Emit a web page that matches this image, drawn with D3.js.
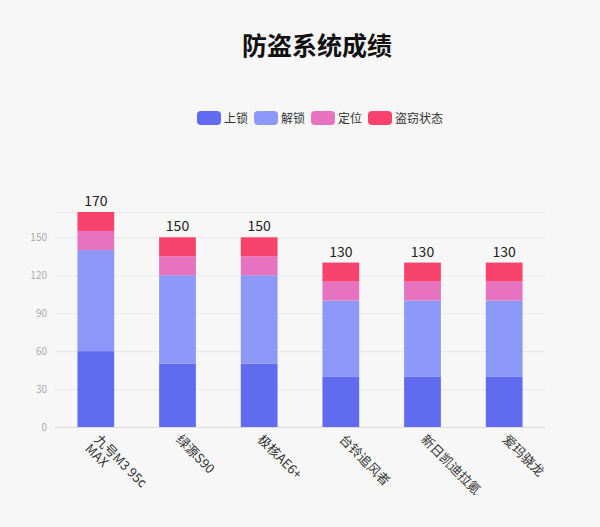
<!DOCTYPE html>
<html>
<head>
<meta charset="utf-8">
<script src="https://cdn.jsdelivr.net/npm/d3@7"></script>
<style>
  body { margin: 0; background: #f7f7f7; }
  svg { display: block; font-family: "Noto Sans CJK SC", "Noto Sans", sans-serif; }
</style>
</head>
<body>
<svg width="600" height="527"></svg>
<script>
  const categories = ["九号M3 95c MAX", "绿源S90", "极核AE6+", "台铃追风者", "新日凯迪拉氪", "爱玛骁龙"];
  const seriesNames = ["上锁", "解锁", "定位", "盗窃状态"];
  const lockVals = [60, 50, 50, 40, 40, 40];
  const unlockVals = [80, 70, 70, 60, 60, 60];
  const locateVals = [15, 15, 15, 15, 15, 15];
  const theftVals = [15, 15, 15, 15, 15, 15];
  const yTicks = [0, 30, 60, 90, 120, 150];
  const colors = ["#616bf0", "#8c99f8", "#e772bf", "#f7426b"];

  const svg = d3.select("svg"),
        width = +svg.attr("width"),
        height = +svg.attr("height"),
        margin = {top: 212, right: 55, bottom: 100, left: 55};

  const rows = categories.map((c, i) => ({
    cat: c,
    "上锁": lockVals[i],
    "解锁": unlockVals[i],
    "定位": locateVals[i],
    "盗窃状态": theftVals[i]
  }));
  const stacked = d3.stack().keys(seriesNames)(rows);
  const totals = rows.map(r => d3.sum(seriesNames, k => r[k]));

  const x = d3.scaleBand()
    .domain(categories)
    .range([margin.left, width - margin.right])
    .paddingInner(0.55)
    .paddingOuter(0.275);

  const y = d3.scaleLinear()
    .domain([0, d3.max(totals)])
    .range([height - margin.bottom, margin.top]);

  const color = d3.scaleOrdinal().domain(seriesNames).range(colors);

  // title (sits a bit right of centre, like the original)
  svg.append("text")
    .attr("x", 317)
    .attr("y", 55)
    .attr("text-anchor", "middle")
    .style("font-size", "25px")
    .style("font-weight", "bold")
    .attr("fill", "#111")
    .text("防盗系统成绩");

  // legend
  const legendX = [197, 254, 311, 368];
  const legend = svg.append("g").selectAll("g")
    .data(seriesNames)
    .enter().append("g")
    .attr("transform", (d, i) => `translate(${legendX[i]},111)`);
  legend.append("rect")
    .attr("width", 24).attr("height", 14).attr("rx", 4)
    .attr("fill", d => color(d));
  legend.append("text")
    .attr("x", 27).attr("y", 11.5)
    .style("font-size", "12px")
    .attr("fill", "#333")
    .text(d => d);

  // grid + y labels
  const gridVals = yTicks.concat([d3.max(totals)]);
  svg.append("g").selectAll("line")
    .data(gridVals)
    .enter().append("line")
    .attr("x1", margin.left).attr("x2", width - margin.right)
    .attr("y1", d => y(d) + 0.5).attr("y2", d => y(d) + 0.5)
    .attr("stroke", d => d === 0 ? "#dcdcdc" : "#e9e9e9");

  svg.append("g").selectAll("text")
    .data(yTicks)
    .enter().append("text")
    .attr("x", margin.left - 8)
    .attr("y", d => y(d) + 3.5)
    .attr("text-anchor", "end")
    .style("font-size", "10px")
    .attr("fill", "#aaa")
    .text(d => d);

  // bars
  svg.append("g").selectAll("g")
    .data(stacked)
    .enter().append("g")
    .attr("fill", d => color(d.key))
    .selectAll("rect")
    .data(d => d)
    .enter().append("rect")
    .attr("x", d => x(d.data.cat))
    .attr("y", d => y(d[1]))
    .attr("width", x.bandwidth())
    .attr("height", d => y(d[0]) - y(d[1]));

  // totals
  svg.append("g").selectAll("text")
    .data(rows)
    .enter().append("text")
    .attr("x", d => x(d.cat) + x.bandwidth() / 2)
    .attr("y", (d, i) => y(totals[i]) - 6)
    .attr("text-anchor", "middle")
    .style("font-size", "14px")
    .attr("fill", "#222")
    .text((d, i) => totals[i]);

  // x labels, rotated
  const xl = svg.append("g").selectAll("text")
    .data(categories)
    .enter().append("text")
    .attr("transform", d => `translate(${x(d) + x.bandwidth() / 2 + 5},${y(0) + 6}) rotate(45)`)
    .attr("text-anchor", "start")
    .style("font-size", "13px")
    .attr("fill", "#333");
  xl.each(function(d) {
    const parts = d === "九号M3 95c MAX" ? ["九号M3 95c", "MAX"] : [d];
    const t = d3.select(this);
    parts.forEach((p, j) => {
      t.append("tspan").attr("x", 0).attr("dy", j === 0 ? "0.8em" : "1.0em").text(p);
    });
  });
</script>
</body>
</html>
